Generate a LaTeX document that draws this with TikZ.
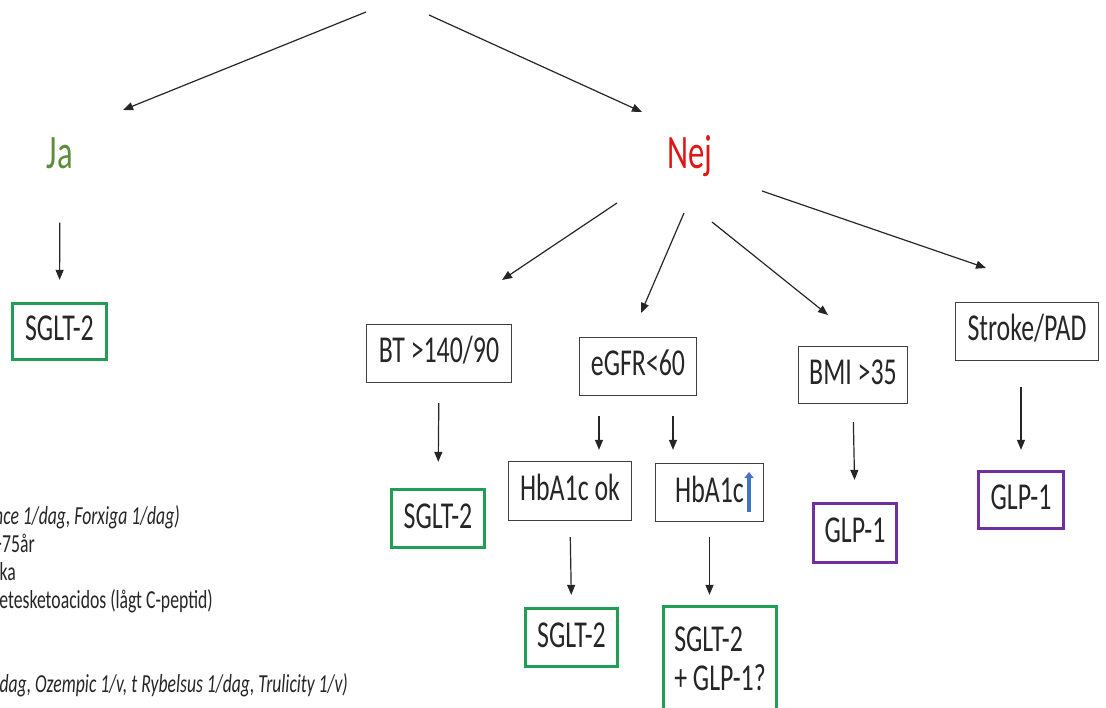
\documentclass[tikz,border=0pt]{standalone}
\usepackage{fontspec}
\setmainfont[FakeStretch=0.68]{Carlito}
\usetikzlibrary{arrows.meta}

\definecolor{jagreen}{RGB}{94,140,58}
\definecolor{nejred}{RGB}{222,22,22}
\definecolor{sgltgreen}{RGB}{34,158,84}
\definecolor{glppurple}{RGB}{112,48,160}
\definecolor{hbblue}{RGB}{68,114,196}

\begin{document}
\begin{tikzpicture}[x=1pt,y=-1pt,
    arr/.style={draw=black!85, line width=1.2pt, -{Triangle[length=10pt,width=8pt]}},
    answer/.style={inner sep=0pt, anchor=base, font=\fontsize{48}{54}\selectfont},
    box/.style={inner sep=0pt, text=black!85, font=\fontsize{38}{39}\selectfont},
    cond/.style={box, draw=black!75, line width=1.3pt, text height=25pt, text depth=6pt},
    sglt/.style={cond, draw=sgltgreen, line width=3.3pt},
    glp/.style={cond, draw=glppurple, line width=3.3pt},
    note/.style={inner sep=0pt, anchor=base east, text=black!85, font=\fontsize{26}{28}\selectfont}]

  \useasboundingbox (0,0) rectangle (1106,708);
  \clip (0,0) rectangle (1106,708);

  \node[answer, text=jagreen] (ja) at (60,169) {Ja};
  \node[answer, text=nejred] (nej) at (690,169) {Nej};

  \coordinate (q-ja) at (366,12);
  \coordinate (q-nej) at (429,15);
  \coordinate (to-ja) at (123,110);
  \coordinate (to-nej) at (642,112);
  \draw[arr] (q-ja) -- (to-ja);
  \draw[arr] (q-nej) -- (to-nej);

  % Ja
  \node[sglt, minimum width=94pt, minimum height=56pt] (sgltja) at (59.5,331.5) {SGLT-2};
  \draw[arr, shorten <=53pt, shorten >=22pt] (ja.south) -- (sgltja.north);

  % Nej
  \node[cond, minimum width=145pt, minimum height=58pt] (bt) at (439,353.5) {BT >140/90};
  \node[cond, minimum width=117pt, minimum height=58pt] (egfr) at (638,366.5) {eGFR<60};
  \node[cond, minimum width=109pt, minimum height=57pt] (bmi) at (853,375) {BMI >35};
  \node[cond, minimum width=143pt, minimum height=58pt] (stroke) at (1027,331.5) {Stroke/PAD};

  \foreach \br/\sx/\sy/\ex/\ey in {bt/617/203/502/280, egfr/684/213/641/313, bmi/712/222/828/315, stroke/762/191/986/268}{
    \coordinate (nej-\br) at (\sx,\sy);
    \coordinate (to-\br) at (\ex,\ey);
    \draw[arr] (nej-\br) -- (to-\br);
  }

  \node[sglt, minimum width=93pt, minimum height=58pt] (sgltbt) at (438,518.5) {SGLT-2};
  \draw[arr, shorten <=20pt, shorten >=26pt] (bt.south) -- (sgltbt.north);

  \node[cond, minimum width=123pt, minimum height=59pt] (hbok) at (570,491) {HbA1c ok};
  \node[cond, minimum width=108pt, minimum height=58pt] (hbup) at (709.5,492.5) {HbA1c\hspace{22pt}};
  \draw[hbblue, line width=4pt, -{Triangle[length=6pt,width=9pt]}] ([xshift=39.5pt,yshift=-19.5pt]hbup.center) -- ([xshift=39.5pt,yshift=20.5pt]hbup.center);

  \coordinate (egfr-l) at ([xshift=-39pt]egfr.south);
  \coordinate (egfr-r) at ([xshift=35pt]egfr.south);
  \draw[arr, shorten <=20pt, shorten >=11pt] (egfr-l) -- (egfr-l |- hbok.north);
  \draw[arr, shorten <=20pt, shorten >=13pt] (egfr-r) -- (egfr-r |- hbup.north);

  \node[sglt, minimum width=92pt, minimum height=58pt] (sgltok) at (571.5,637.5) {SGLT-2};
  \draw[arr, shorten <=16pt, shorten >=12pt] (hbok.south) -- (sgltok.north);

  \node[box, draw=sgltgreen, line width=3.3pt, align=left, minimum width=113pt, minimum height=104pt] (combo) at (720,658.5) {SGLT-2\\+ GLP-1?};
  \draw[arr, shorten <=15pt, shorten >=10pt] (hbup.south) -- (hbup.south |- combo.north);

  \node[glp, minimum width=83pt, minimum height=59pt] (glpbmi) at (855,533) {GLP-1};
  \draw[arr, shorten <=18pt, shorten >=22pt] (bmi.south) -- (glpbmi.north);
  \node[glp, minimum width=85pt, minimum height=57pt] (glpst) at (1021,500) {GLP-1};
  \draw[arr, shorten <=26pt, shorten >=20pt] (stroke.south -| glpst.north) -- (glpst.north);

  % notes, cut at the left edge
  \node[note] (n1) at (180,524) {\itshape nce 1/dag, Forxiga 1/dag)};
  \node[note] (n2) at (35,552) {>75år};
  \node[note] (n3) at (16,580) {ka};
  \node[note] (n4) at (213,608) {betesketoacidos (lågt C-peptid)};
  \node[note] (n5) at (348,692) {\itshape /dag, Ozempic 1/v, t Rybelsus 1/dag, Trulicity 1/v)};
\end{tikzpicture}
\end{document}
